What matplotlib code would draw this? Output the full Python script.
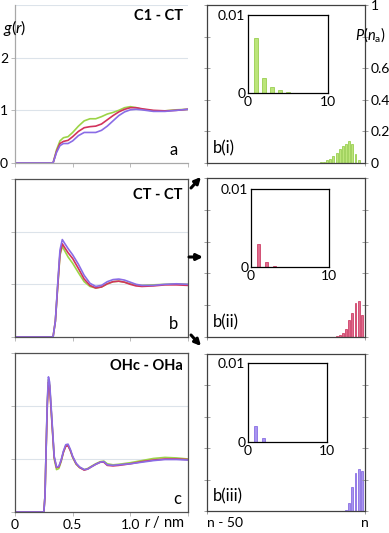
import matplotlib
matplotlib.use("Agg")
import matplotlib.pyplot as plt
from matplotlib.patches import FancyArrowPatch

plt.rcParams["font.family"] = ["Lato", "DejaVu Sans"]
plt.rcParams["mathtext.fontset"] = "custom"
plt.rcParams["mathtext.rm"] = "Lato"
plt.rcParams["mathtext.it"] = "Lato:italic"

GREEN = "#9CD447"
RED = "#D2335C"
PURPLE = "#8A6CE6"

# --- g(r) data ---
r_a = [0, 0.30, 0.33, 0.36, 0.39, 0.42, 0.46, 0.50, 0.55, 0.60, 0.65, 0.70,
       0.75, 0.80, 0.85, 0.90, 0.95, 1.00, 1.05, 1.10, 1.20, 1.30, 1.40, 1.50]
a_green = [0, 0, 0.0, 0.25, 0.42, 0.48, 0.50, 0.58, 0.70, 0.80, 0.84, 0.84,
           0.88, 0.93, 0.96, 1.00, 1.05, 1.07, 1.05, 1.02, 0.99, 0.99, 1.01, 1.02]
a_red = [0, 0, 0.0, 0.22, 0.37, 0.41, 0.43, 0.50, 0.60, 0.67, 0.69, 0.70,
         0.74, 0.82, 0.90, 0.97, 1.02, 1.05, 1.05, 1.03, 1.00, 0.99, 1.00, 1.02]
a_purple = [0, 0, 0.0, 0.20, 0.33, 0.37, 0.37, 0.42, 0.52, 0.58, 0.58, 0.58,
            0.62, 0.70, 0.80, 0.90, 0.97, 1.01, 1.02, 1.01, 0.98, 0.98, 1.00, 1.02]

r_b = [0, 0.33, 0.35, 0.37, 0.39, 0.41, 0.43, 0.46, 0.50, 0.55, 0.60, 0.65, 0.70,
       0.75, 0.80, 0.85, 0.90, 0.95, 1.00, 1.05, 1.10, 1.20, 1.30, 1.40, 1.50]
b_green = [0, 0, 0.3, 0.95, 1.55, 1.72, 1.64, 1.52, 1.40, 1.22, 1.05, 0.96, 0.93,
           0.95, 1.01, 1.05, 1.06, 1.04, 1.01, 0.99, 0.98, 0.99, 1.00, 1.01, 1.00]
b_red = [0, 0, 0.3, 0.95, 1.58, 1.77, 1.70, 1.60, 1.49, 1.30, 1.10, 0.98, 0.93,
         0.95, 1.01, 1.05, 1.06, 1.04, 1.00, 0.97, 0.96, 0.97, 0.99, 0.99, 0.98]
b_purple = [0, 0, 0.3, 1.00, 1.65, 1.85, 1.78, 1.68, 1.56, 1.38, 1.17, 1.02, 0.96,
            0.98, 1.05, 1.09, 1.10, 1.08, 1.04, 1.00, 0.98, 0.98, 1.00, 1.01, 1.00]

r_c = [0, 0.25, 0.26, 0.27, 0.28, 0.29, 0.30, 0.32, 0.34, 0.36, 0.38, 0.40, 0.42,
       0.44, 0.46, 0.48, 0.50, 0.53, 0.56, 0.60, 0.63, 0.66, 0.70, 0.74, 0.77,
       0.80, 0.85, 0.90, 1.00, 1.10, 1.20, 1.30, 1.40, 1.50]
c_green = [0, 0, 0.3, 1.2, 2.05, 2.50, 2.40, 1.70, 1.00, 0.80, 0.82, 0.95, 1.13,
           1.25, 1.26, 1.16, 1.03, 0.90, 0.84, 0.80, 0.82, 0.86, 0.91, 0.95, 0.96,
           0.91, 0.89, 0.90, 0.93, 0.97, 1.01, 1.03, 1.02, 1.00]
c_red = [0, 0, 0.3, 1.2, 2.00, 2.45, 2.38, 1.70, 1.03, 0.84, 0.85, 0.97, 1.13,
         1.24, 1.25, 1.16, 1.04, 0.91, 0.84, 0.79, 0.81, 0.85, 0.90, 0.94, 0.94,
         0.88, 0.87, 0.88, 0.91, 0.95, 0.98, 1.00, 1.00, 0.99]
c_purple = [0, 0, 0.3, 1.2, 2.10, 2.55, 2.45, 1.75, 1.05, 0.85, 0.86, 0.98, 1.15,
            1.27, 1.28, 1.18, 1.05, 0.92, 0.85, 0.80, 0.81, 0.85, 0.90, 0.94, 0.95,
            0.89, 0.88, 0.89, 0.91, 0.94, 0.97, 0.99, 0.99, 0.98]

# --- P(n_a) distributions (x relative to n) ---
n_i = [-14, -13, -12, -11, -10, -9, -8, -7, -6, -5, -4, -3, -2]
p_i = [0.006, 0.008, 0.017, 0.023, 0.042, 0.063, 0.086, 0.107, 0.122, 0.137, 0.118, 0.059, 0.021]
n_ii = [-9, -8, -7, -6, -5, -4, -3, -2, -1]
p_ii = [0.004, 0.010, 0.025, 0.048, 0.105, 0.153, 0.214, 0.227, 0.136]
n_iii = [-6, -5, -4, -3, -2, -1]
p_iii = [0.008, 0.051, 0.153, 0.244, 0.270, 0.253]

# insets: low-n tail
k_ins = [1, 2, 3, 4, 5]
ins_i = [0.0070, 0.0019, 0.00077, 0.00034, 0.00013]
ins_ii = [0.0030, 0.00064, 0.00017, 0, 0]
ins_iii = [0.0020, 0.0005, 0, 0, 0]

fig = plt.figure(figsize=(3.89, 5.33), dpi=100)
W, H = 389.0, 533.0


def px_axes(x0, y0, x1, y1):
    return fig.add_axes([x0 / W, 1 - y1 / H, (x1 - x0) / W, (y1 - y0) / H])


def gr_panel(ax, r, g, rd, p, boxed):
    ax.set_xlim(0, 1.5)
    ax.set_ylim(0, 3)
    for y in (1, 2, 3):
        ax.axhline(y, color="#DCE3EA", lw=0.8, zorder=0)
    ax.plot(r, g, color=GREEN, lw=1.2)
    ax.plot(r, rd, color=RED, lw=1.2)
    ax.plot(r, p, color=PURPLE, lw=1.2)
    ax.set_xticks([0, 0.5, 1.0, 1.5])
    ax.set_yticks([0, 1, 2, 3])
    ax.tick_params(length=3, width=0.6, color="#B0B0B0", labelsize=10, pad=2)
    ax.set_xticklabels([])
    ax.set_yticklabels([])
    for s in ax.spines.values():
        s.set_color("#505050" if boxed else "#A8A8A8")
        s.set_linewidth(0.9)
    if not boxed:
        ax.spines["top"].set_visible(False)
        ax.spines["right"].set_visible(False)


ax_a = px_axes(15, 5, 188, 163)
gr_panel(ax_a, r_a, a_green, a_red, a_purple, False)
ax_a.set_yticks([0, 1, 2])
ax_a.set_yticklabels(["0", "1", "2"])
ax_a.text(0.97, 0.93, "C1 - CT", transform=ax_a.transAxes, ha="right", va="center",
          fontsize=10.5, fontweight="bold")
ax_a.text(0.915, 0.08, "a", transform=ax_a.transAxes, ha="center", va="center", fontsize=12)
fig.text(15 / W, 1 - 28 / H, r"$g$($r$)", ha="center", va="center", fontsize=11.5)

ax_b = px_axes(15, 179, 188, 337)
gr_panel(ax_b, r_b, b_green, b_red, b_purple, True)
ax_b.text(0.97, 0.90, "CT - CT", transform=ax_b.transAxes, ha="right", va="center",
          fontsize=10.5, fontweight="bold")
ax_b.text(0.915, 0.08, "b", transform=ax_b.transAxes, ha="center", va="center", fontsize=12)

ax_c = px_axes(15, 353, 188, 512)
gr_panel(ax_c, r_c, c_green, c_red, c_purple, True)
ax_c.set_xticklabels(["0", "0.5", "1.0", ""])
ax_c.tick_params(axis="x", pad=2)
ax_c.text(0.97, 0.92, "OHc - OHa", transform=ax_c.transAxes, ha="right", va="center",
          fontsize=10.5, fontweight="bold")
ax_c.text(0.94, 0.08, "c", transform=ax_c.transAxes, ha="center", va="center", fontsize=12)
fig.text(184 / W, 1 - 522 / H, r"$r$ / nm", ha="right", va="center", fontsize=10.5)


def dist_panel(box, ins_box, n, p, k, ins, color, face, label, right_labels, bottom_labels):
    ax = px_axes(*box)
    ax.bar(n, p, width=0.6, color=face, edgecolor=color, lw=0.5)
    ax.set_xlim(-50, 0)
    ax.set_ylim(0, 1)
    ax.set_xticks([-50, 0])
    ax.set_yticks([0, 0.2, 0.4, 0.6, 0.8, 1.0])
    ax.tick_params(direction="inout", length=4, width=0.6, color="#909090",
                   left=True, right=True, labelleft=False, labelright=right_labels,
                   labelbottom=bottom_labels, labelsize=10, pad=2)
    if right_labels:
        ax.set_yticklabels(["0", "0.2", "0.4", "0.6", "", "1"])
    if bottom_labels:
        ax.set_xticklabels(["n - 50", "n"])
        lbls = ax.get_xticklabels()
        lbls[0].set_ha("left")
    for s in ax.spines.values():
        s.set_color("#404040")
        s.set_linewidth(0.9)
    ax.text(0.04, 0.09, label, transform=ax.transAxes, ha="left", va="center", fontsize=12)

    ai = px_axes(*ins_box)
    ai.bar(k, ins, width=0.4, color=face, edgecolor=color, lw=0.5)
    ai.set_xlim(0, 10)
    ai.set_ylim(0, 0.01)
    ai.set_xticks([0, 10])
    ai.set_yticks([0, 0.01])
    ai.set_yticklabels(["0", "0.01"])
    ai.tick_params(length=0, labelsize=10, pad=2)
    for s in ai.spines.values():
        s.set_color("black")
        s.set_linewidth(0.9)
    return ax


ax_bi = dist_panel((207, 5, 365, 163), (248, 15, 328, 93), n_i, p_i, k_ins, ins_i,
                   "#8CC83C", "#BCE57A", "b(i)", True, False)
fig.text(386 / W, 1 - 35 / H, r"$P$($n_{\mathrm{a}}$)", ha="right", va="center", fontsize=10.5)
ax_bii = dist_panel((207, 178, 365, 337), (251, 189, 329, 267), n_ii, p_ii, k_ins, ins_ii,
                    "#C82A55", "#E06A8C", "b(ii)", False, False)
ax_biii = dist_panel((207, 354, 365, 511), (248, 363, 327, 442), n_iii, p_iii, k_ins, ins_iii,
                     "#7A5CE0", "#A894F0", "b(iii)", False, True)

# arrows from CT-CT panel to the three distributions
for (x0, y0, x1, y1) in [(191, 188, 201, 177), (189, 257, 203, 257), (191, 335, 201, 346)]:
    fig.add_artist(FancyArrowPatch((x0 / W, 1 - y0 / H), (x1 / W, 1 - y1 / H),
                                   transform=fig.transFigure, arrowstyle="-|>",
                                   mutation_scale=9, lw=2.2, color="black",
                                   shrinkA=0, shrinkB=0))

plt.savefig("out.png", dpi=100)
